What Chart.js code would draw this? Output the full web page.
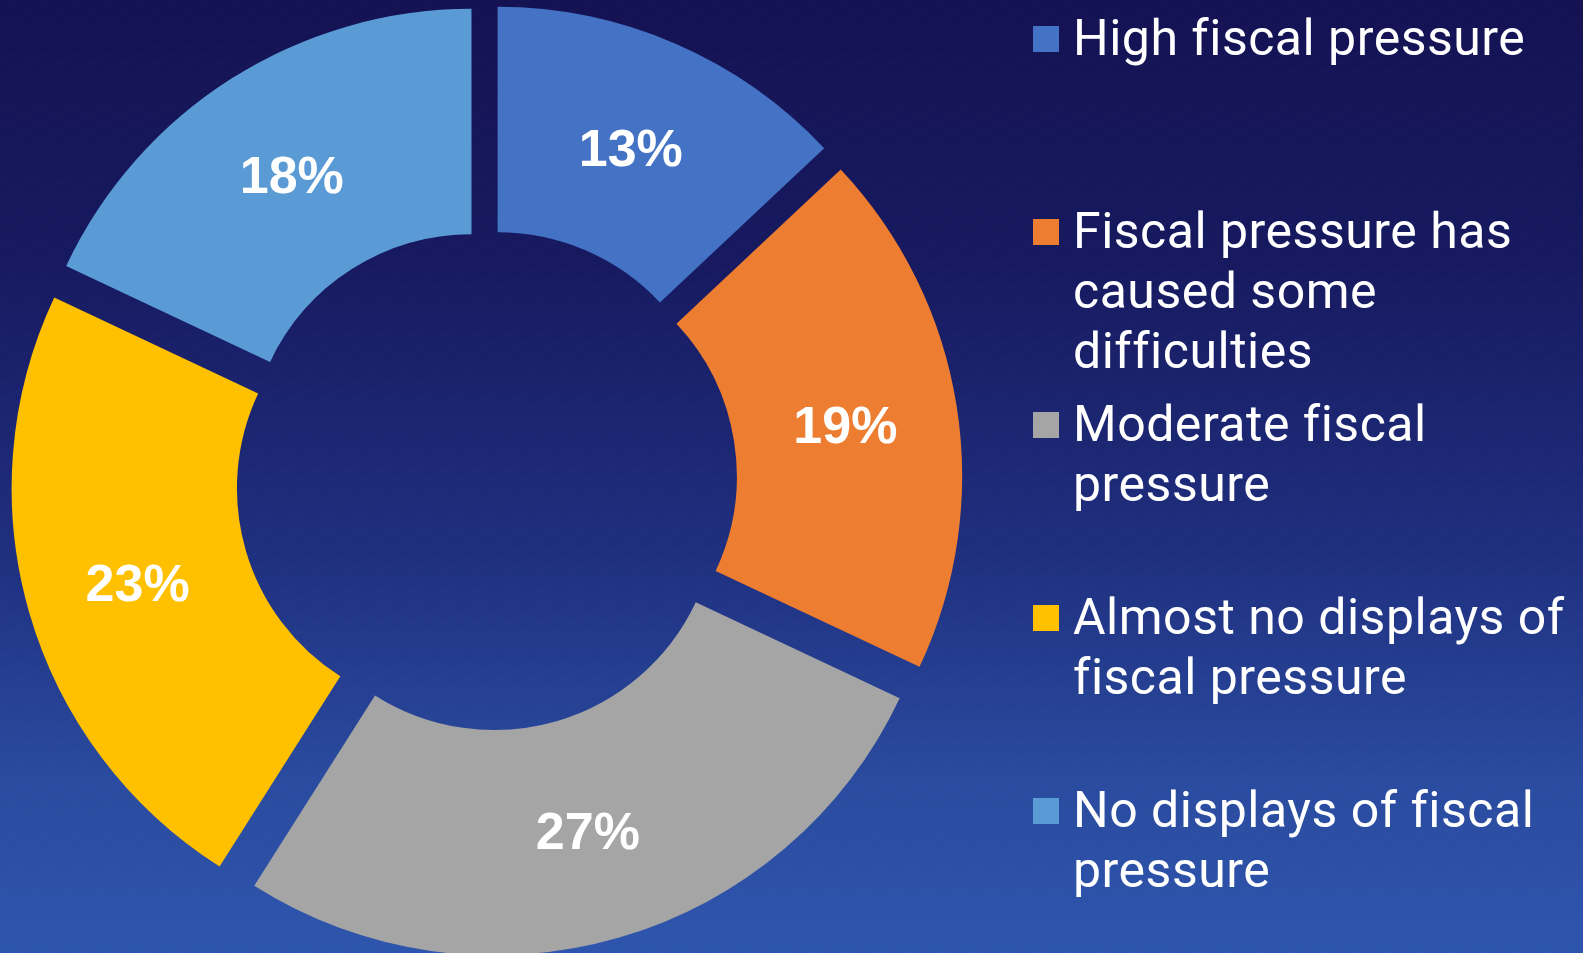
<!DOCTYPE html>
<html>
<head>
<meta charset="utf-8">
<script src="https://cdn.jsdelivr.net/npm/chart.js@4.4.1/dist/chart.umd.min.js"></script>
<style>
  html, body {
    margin: 0;
    padding: 0;
    width: 1583px;
    height: 953px;
    overflow: hidden;
  }
  body {
    position: relative;
    background:
      repeating-linear-gradient(-28deg, rgba(255,255,255,0.012) 0px, rgba(255,255,255,0.012) 1px, rgba(255,255,255,0) 2px, rgba(255,255,255,0) 15px),
      linear-gradient(to bottom, #141253 0%, #171a60 28%, #1f2f7f 58%, #2a4b9f 82%, #2e55ad 100%);
    font-family: Roboto, "Noto Sans", sans-serif;
  }
  #wrap {
    position: absolute;
    left: 0;
    top: 0;
    width: 973px;
    height: 961px;
  }
  #legend {
    position: absolute;
    left: 0;
    top: 0;
  }
  .item {
    position: absolute;
    left: 1033px;
    width: 540px;
  }
  .box {
    position: absolute;
    left: 0;
    top: 18px;
    width: 26px;
    height: 26px;
  }
  .txt {
    position: absolute;
    left: 40px;
    top: 0;
    width: 510px;
    color: #ffffff;
    font-size: 50px;
    line-height: 60px;
    letter-spacing: 0.5px;
    white-space: nowrap;
  }
</style>
</head>
<body>
<div id="wrap"><canvas id="donut"></canvas></div>
<div id="legend"></div>
<script>
// survey answers, share of respondents (%)
var categories = [
  'High fiscal pressure',
  'Fiscal pressure has caused some difficulties',
  'Moderate fiscal pressure',
  'Almost no displays of fiscal pressure',
  'No displays of fiscal pressure'
];
// how each legend entry breaks over lines
var legendLines = [
  ['High fiscal pressure'],
  ['Fiscal pressure has', 'caused some', 'difficulties'],
  ['Moderate fiscal', 'pressure'],
  ['Almost no displays of', 'fiscal pressure'],
  ['No displays of fiscal', 'pressure']
];
var shares = [13, 19, 27, 23, 18];
var colours = ['#4472C4', '#ED7D31', '#A5A5A5', '#FFC000', '#5B9BD5'];

var EXPLODE = 28;   // px each slice is pulled out from the centre

// draw each arc pushed out along its own bisector
var explodePlugin = {
  id: 'explode',
  beforeDatasetDraw: function(chart, args) {
    var ctx = chart.ctx;
    args.meta.data.forEach(function(arc) {
      var mid = (arc.startAngle + arc.endAngle) / 2;
      ctx.save();
      ctx.translate(Math.cos(mid) * EXPLODE, Math.sin(mid) * EXPLODE);
      arc.draw(ctx);
      ctx.restore();
    });
    return false;
  }
};

// percentage written in the middle of each slice
var labelPlugin = {
  id: 'sliceLabels',
  afterDatasetsDraw: function(chart) {
    var ctx = chart.ctx;
    var meta = chart.getDatasetMeta(0);
    var values = chart.data.datasets[0].data;
    ctx.save();
    ctx.fillStyle = '#ffffff';
    ctx.font = 'bold 52px "Liberation Sans", Arial, sans-serif';
    ctx.textAlign = 'center';
    ctx.textBaseline = 'middle';
    meta.data.forEach(function(arc, i) {
      var mid = (arc.startAngle + arc.endAngle) / 2;
      var r = (arc.innerRadius + arc.outerRadius) / 2 + EXPLODE;
      ctx.fillText(values[i] + '%', arc.x + Math.cos(mid) * r, arc.y + Math.sin(mid) * r + 5);
    });
    ctx.restore();
  }
};

new Chart(document.getElementById('donut'), {
  type: 'doughnut',
  data: {
    labels: categories,
    datasets: [{
      data: shares,
      backgroundColor: colours,
      borderWidth: 0,
      hoverOffset: 0
    }]
  },
  options: {
    responsive: true,
    maintainAspectRatio: false,
    animation: false,
    events: [],
    radius: 448,
    cutout: '49.7%',
    layout: { padding: 0 },
    plugins: {
      legend: { display: false },
      tooltip: { enabled: false }
    }
  },
  plugins: [explodePlugin, labelPlugin]
});

// legend on the right, one entry every 193px
var legend = document.getElementById('legend');
for (var i = 0; i < categories.length; i++) {
  var item = document.createElement('div');
  item.className = 'item';
  item.style.top = (8 + i * 193) + 'px';
  var box = document.createElement('div');
  box.className = 'box';
  box.style.background = colours[i];
  var txt = document.createElement('div');
  txt.className = 'txt';
  txt.innerHTML = legendLines[i].join('<br>');
  item.appendChild(box);
  item.appendChild(txt);
  legend.appendChild(item);
}
</script>
</body>
</html>
